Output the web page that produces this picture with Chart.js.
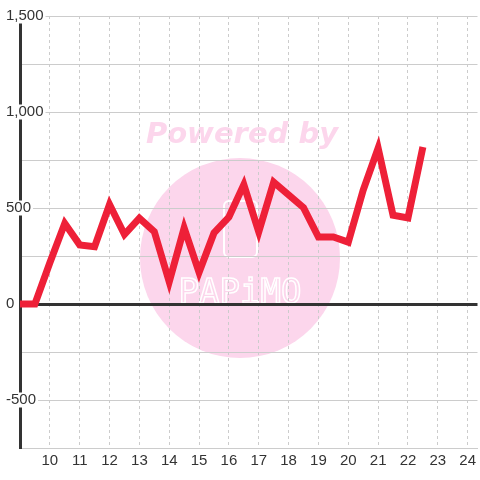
<!DOCTYPE html>
<html>
<head>
<meta charset="utf-8">
<script src="https://cdn.jsdelivr.net/npm/chart.js@4"></script>
<style>
  html, body { margin: 0; padding: 0; background: #ffffff; }
  #wrap { width: 480px; height: 480px; }
</style>
</head>
<body>
<div id="wrap"><canvas id="c" width="480" height="480"></canvas></div>
<script>
// Time of day (hours) and values
const times = [8.5, 9, 9.5, 10, 10.5, 11, 11.5, 12, 12.5, 13, 13.5, 14, 14.5, 15, 15.5, 16, 16.5, 17, 17.5, 18, 18.5, 19, 19.5, 20, 20.5, 21, 21.5, 22, 22.5];
const values = [0, 0, 0, 215, 420, 308, 298, 518, 362, 447, 377, 115, 396, 165, 370, 453, 622, 376, 635, 568, 502, 349, 349, 322, 594, 812, 462, 448, 818];

const xMin = 9, xMax = 24.33, xStep = 1;
const yMin = -750, yMax = 1500, yStep = 250, yLabelStep = 500;

const points = times.map((t, i) => ({ x: t, y: values[i] }));

const watermark = {
  id: 'watermark',
  beforeDraw(chart) {
    const ctx = chart.ctx;
    ctx.save();
    ctx.fillStyle = '#ffffff';
    ctx.fillRect(0, 0, chart.width, chart.height);
    // pink circle
    ctx.fillStyle = '#fcd6ec';
    ctx.beginPath();
    ctx.arc(240, 258, 100, 0, Math.PI * 2);
    ctx.fill();
    // "Powered by"
    ctx.font = 'italic bold 29px "DejaVu Sans"';
    ctx.textAlign = 'center';
    ctx.textBaseline = 'alphabetic';
    ctx.fillStyle = '#fcd6ec';
    ctx.fillText('Powered by', 242, 143);
    // phone outline
    ctx.strokeStyle = '#ffffff';
    ctx.lineWidth = 2;
    ctx.beginPath();
    if (ctx.roundRect) { ctx.roundRect(224, 201, 33, 56, 5); } else { ctx.rect(224, 201, 33, 56); }
    ctx.stroke();
    // logo text
    ctx.font = '34px "DejaVu Sans Mono"';
    ctx.lineWidth = 1.5;
    ctx.strokeText('PAPiMO', 240, 303);
    ctx.restore();
  }
};

new Chart(document.getElementById('c'), {
  type: 'line',
  data: {
    datasets: [{
      data: points,
      borderColor: '#ee2038',
      borderWidth: 7,
      pointRadius: 0,
      tension: 0,
      fill: false,
      borderCapStyle: 'butt',
      borderJoinStyle: 'miter'
    }]
  },
  options: {
    responsive: false,
    animation: false,
    plugins: { legend: { display: false }, tooltip: { enabled: false } },
    layout: { padding: { left: 6, top: 16, right: 0, bottom: 0 } },
    font: { family: '"Liberation Sans", Arial, sans-serif' },
    scales: {
      x: {
        type: 'linear',
        min: xMin,
        max: xMax,
        afterFit(scale) { scale.height = 32; },
        ticks: {
          stepSize: xStep,
          includeBounds: false,
          autoSkip: false,
          maxRotation: 0,
          padding: 4,
          color: '#333333',
          font: { size: 15, family: '"Liberation Sans", Arial, sans-serif' },
          callback: (v) => (v === xMin ? '' : String(v))
        },
        grid: {
          drawTicks: false,
          color: (ctx) => (ctx.tick && ctx.tick.value === xMin ? 'rgba(0,0,0,0)' : '#cccccc'),
          lineWidth: 1
        },
        border: { display: true, color: '#cccccc', width: 1, dash: [3, 3] }
      },
      y: {
        type: 'linear',
        min: yMin,
        max: yMax,
        afterFit(scale) { scale.width = 14; },
        ticks: {
          stepSize: yStep,
          mirror: true,
          padding: -14,
          color: '#333333',
          font: { size: 15, lineHeight: 1, family: '"Liberation Sans", Arial, sans-serif' },
          callback: (v) => (v % yLabelStep === 0 ? v.toLocaleString('en-US') : ''),
          showLabelBackdrop: true,
          backdropColor: (ctx) => (ctx.tick && ctx.tick.value % yLabelStep === 0 ? '#ffffff' : 'rgba(0,0,0,0)'),
          backdropPadding: { left: 0, right: 2, top: 0, bottom: 0 }
        },
        grid: {
          drawTicks: false,
          color: (ctx) => (ctx.tick && ctx.tick.value === 0 ? '#333333' : '#cccccc'),
          lineWidth: (ctx) => (ctx.tick && ctx.tick.value === 0 ? 3 : 1)
        },
        border: { display: true, color: '#333333', width: 3 }
      }
    }
  },
  plugins: [watermark]
});
</script>
</body>
</html>
